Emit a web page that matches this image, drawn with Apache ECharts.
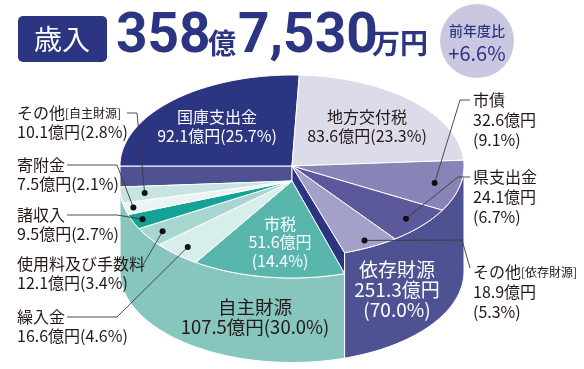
<!DOCTYPE html>
<html><head><meta charset="utf-8">
<script src="https://cdn.jsdelivr.net/npm/echarts@6/dist/echarts.min.js"></script>
<style>html,body{margin:0;padding:0;background:#fff}#c{width:584px;height:369px}</style>
</head><body><div id="c"></div>
<script>
// ---- data ----
const dependNames = ['国庫支出金', '地方交付税', '市債', '県支出金', 'その他[依存財源]'];
const dependValues = [92.1, 83.6, 32.6, 24.1, 18.9];
const dependPcts = [25.7, 23.3, 9.1, 6.7, 5.3];
const ownNames = ['市税', '繰入金', '使用料及び手数料', '諸収入', '寄附金', 'その他[自主財源]'];
const ownValues = [51.6, 16.6, 12.1, 9.5, 7.5, 10.1];
const ownPcts = [14.4, 4.6, 3.4, 2.7, 2.1, 2.8];
const groupNames = ['依存財源', '自主財源'];
const groupValues = [251.3, 107.5];
const groupPcts = [70.0, 30.0];
const headerLabel = '歳入';
const totalOku = '358';
const totalMan = '7,530';
const yoyLabel = '前年度比';
const yoyValue = '+6.6%';

// ---- styles / layout ----
const FONT = '"Noto Sans CJK JP", "Noto Sans", sans-serif';
const NAVY = '#2b3581';
const TXT = '#231815';
const colors = {
  '国庫支出金': '#2b3581', '地方交付税': '#dcdbea', '市債': '#8884b7', '県支出金': '#5b599b',
  'その他[依存財源]': '#a3a0c9',
  '市税': '#58b6ad', '繰入金': '#d8eeeb', '使用料及び手数料': '#a7d6d0', '諸収入': '#14a396',
  '寄附金': '#eaf5f3', 'その他[自主財源]': '#c6e4e0',
  '依存財源': '#4f5292', '自主財源': '#86c6bf', cutBand: '#4f5292', cutStrip: '#2b3581'
};
const G = { cx: 292, cy: 166, rx: 172, ry: 91, H: 105.5, d0: 15, d1: 21 };
const inLayout = {
  '国庫支出金': { x: 217, y: 126, fill: '#fff', size: 16, lh: 19, lines: 2 },
  '地方交付税': { x: 367, y: 126, fill: TXT, size: 16, lh: 19, lines: 2 },
  '市税': { x: 280, y: 242, fill: '#fff', size: 16, lh: 18.5, lines: 3 },
  '依存財源': { x: 397, y: 290, fill: '#fff', size: 19, lh: 20, lines: 3 },
  '自主財源': { x: 255, y: 317, fill: TXT, size: 18.5, lh: 20.5, lines: 2 }
};
const outLayout = {
  'その他[自主財源]': { x: 17, y: 104, lh: 18.5, lines: 2, path: [[127, 113], [137, 113]], r: 0.86 },
  '寄附金': { x: 17, y: 156, lh: 18.5, lines: 2, path: [[67, 165], [117, 165]], r: 0.95 },
  '諸収入': { x: 17, y: 206, lh: 18.5, lines: 2, path: [[67, 215], [117, 215]], r: 0.94 },
  '使用料及び手数料': { x: 17, y: 254, lh: 19, lines: 2, path: [[143, 265]], r: 0.9 },
  '繰入金': { x: 17, y: 308, lh: 18.5, lines: 2, path: [[67, 317], [117, 317]], r: 0.9 },
  '市債': { x: 473, y: 90, lh: 20, lines: 3, path: [[470, 100], [460, 100]], r: 0.85 },
  '県支出金': { x: 473, y: 167, lh: 20, lines: 3, path: [[470, 177], [458, 177]], r: 0.88 },
  'その他[依存財源]': { x: 473, y: 262, lh: 20, lines: 3, path: [[470, 268], [462, 240]], r: 0.92 }
};

// ---- geometry from data ----
const total = dependValues.concat(ownValues).reduce((a, b) => a + b, 0);
function spans(vals, start) {
  let a = start;
  return vals.map(v => { const s = a; a += v / total * 360; return [s, a]; });
}
const depAng = spans(dependValues, 270);
const ownAng = spans(ownValues, depAng[depAng.length - 1][1]);
const cutA = depAng[depAng.length - 1][1];
const endA = ownAng[ownAng.length - 1][1];

function P(deg, r, cyy) {
  const t = deg * Math.PI / 180;
  return [G.cx + r * G.rx * Math.sin(t), cyy + r * G.ry * (-Math.cos(t))];
}
function arc(a0, a1, cyy) {
  const n = Math.max(2, Math.ceil(Math.abs(a1 - a0) / 1.5));
  const pts = [];
  for (let i = 0; i <= n; i++) pts.push(P(a0 + (a1 - a0) * i / n, 1, cyy));
  return pts;
}
function fmtV(v) { return v.toFixed(1) + '億円'; }
function fmtP(p) { return '(' + p.toFixed(1) + '%)'; }
function nameRich(name) {
  const i = name.indexOf('[');
  if (i < 0) return '{n|' + name + '}';
  return '{n|' + name.slice(0, i) + '}{s|' + name.slice(i) + '}';
}
function poly(points, fill, z2) {
  return { type: 'polygon', shape: { points }, z2: z2 || 0,
    style: { fill, stroke: '#fff', lineWidth: 1, lineJoin: 'round' } };
}
function inLabel(name, value, pct) {
  const L = inLayout[name];
  const text = L.lines === 3 ? name + '\n' + fmtV(value) + '\n' + fmtP(pct)
                             : name + '\n' + fmtV(value) + fmtP(pct);
  return { type: 'text', x: L.x, y: L.y, z2: 50,
    style: { text, fill: L.fill, font: L.size + 'px ' + FONT, align: 'center',
      verticalAlign: 'middle', lineHeight: L.lh } };
}
function outLabel(name, value, pct, mid, cyy, dz) {
  const L = outLayout[name];
  const body = L.lines === 3 ? '\n' + fmtV(value) + '\n' + fmtP(pct) : '\n' + fmtV(value) + fmtP(pct);
  const dot = P(mid, L.r, cyy);
  dot[1] += dz * L.r;
  const pts = L.path.concat([dot]);
  return [
    { type: 'text', x: L.x, y: L.y, z2: 60,
      style: { text: nameRich(name) + body, fill: TXT, font: '16px ' + FONT, align: 'left',
        verticalAlign: 'top', lineHeight: L.lh,
        rich: { n: { fontSize: 16, fontFamily: FONT, fill: TXT, lineHeight: L.lh },
                s: { fontSize: 12, fontFamily: FONT, fill: TXT, lineHeight: L.lh } } } },
    { type: 'polyline', z2: 70, shape: { points: pts }, style: { stroke: '#3a3a3a', lineWidth: 0.9, fill: null } },
    { type: 'circle', z2: 71, shape: { cx: dot[0], cy: dot[1], r: 3 }, style: { fill: '#111' } }
  ];
}

function renderWall(params, api) {
  const i = params.dataIndex;
  const name = groupNames[i];
  const children = [];
  if (i === 0) {
    const top = arc(450, cutA, G.cy);
    const bot = arc(450, cutA, G.cy + G.H).reverse();
    children.push(poly(top.concat(bot), colors[name]));
    // cut face along the boundary of 9 o'clock
    children.push(poly([[G.cx, G.cy], P(270, 1, G.cy), P(270, 1, G.cy + G.d1), [G.cx, G.cy + G.d0]], colors.cutBand));
    // cut face along the boundary between both groups
    children.push(poly([[G.cx, G.cy], P(cutA, 1, G.cy), P(cutA, 1, G.cy + G.d1), [G.cx, G.cy + G.d0]], colors.cutStrip));
  } else {
    const top = arc(cutA, endA, G.cy + G.d1);
    const bot = arc(cutA, endA, G.cy + G.H).reverse();
    children.push(poly(top.concat(bot), colors[name]));
  }
  children.push(inLabel(name, api.value(0), groupPcts[i]));
  return { type: 'group', children };
}
function renderDepend(params, api) {
  const i = params.dataIndex;
  const name = dependNames[i];
  const [a0, a1] = depAng[i];
  const children = [poly([[G.cx, G.cy]].concat(arc(a0, a1, G.cy)), colors[name])];
  if (inLayout[name]) children.push(inLabel(name, api.value(0), dependPcts[i]));
  else children.push(...outLabel(name, api.value(0), dependPcts[i], (a0 + a1) / 2, G.cy, 0));
  return { type: 'group', children };
}
function renderOwn(params, api) {
  const i = params.dataIndex;
  const name = ownNames[i];
  const [a0, a1] = ownAng[i];
  const children = [poly([[G.cx, G.cy + G.d0]].concat(arc(a0, a1, G.cy + G.d1)), colors[name])];
  if (inLayout[name]) children.push(inLabel(name, api.value(0), ownPcts[i]));
  else children.push(...outLabel(name, api.value(0), ownPcts[i], (a0 + a1) / 2, G.cy + G.d0, G.d1 - G.d0));
  return { type: 'group', children };
}

const chart = echarts.init(document.getElementById('c'), null, { renderer: 'canvas' });
chart.setOption({
  animation: false,
  backgroundColor: '#fff',
  graphic: [
    { type: 'rect', shape: { x: 18, y: 16, width: 89, height: 46, r: 5 }, style: { fill: NAVY } },
    { type: 'text', x: 62, y: 39, style: { text: headerLabel, fill: '#fff', font: '28px ' + FONT, align: 'center', verticalAlign: 'middle' } },
    { type: 'text', x: 116, y: 38, style: { text: totalOku, fill: NAVY, font: 'bold 55px Roboto', align: 'left', verticalAlign: 'middle' } },
    { type: 'text', x: 208, y: 43, style: { text: '億', fill: NAVY, font: 'bold 28px ' + FONT, align: 'left', verticalAlign: 'middle' } },
    { type: 'text', x: 238, y: 38, style: { text: totalMan, fill: NAVY, font: 'bold 55px Roboto', align: 'left', verticalAlign: 'middle' } },
    { type: 'text', x: 372, y: 43, style: { text: '万円', fill: NAVY, font: 'bold 28px ' + FONT, align: 'left', verticalAlign: 'middle' } },
    { type: 'circle', shape: { cx: 477, cy: 41, r: 37 }, style: { fill: '#c9c8e0' } },
    { type: 'text', x: 477, y: 31, style: { text: yoyLabel, fill: NAVY, font: '500 14px ' + FONT, align: 'center', verticalAlign: 'middle' } },
    { type: 'text', x: 477, y: 53, style: { text: yoyValue, fill: NAVY, font: '20px ' + FONT, align: 'center', verticalAlign: 'middle' } }
  ],
  series: [
    { type: 'custom', name: 'walls', coordinateSystem: 'none', z: 1, data: groupValues, renderItem: renderWall },
    { type: 'custom', name: 'depend', coordinateSystem: 'none', z: 2, data: dependValues, renderItem: renderDepend },
    { type: 'custom', name: 'own', coordinateSystem: 'none', z: 3, data: ownValues, renderItem: renderOwn }
  ]
});
</script></body></html>
